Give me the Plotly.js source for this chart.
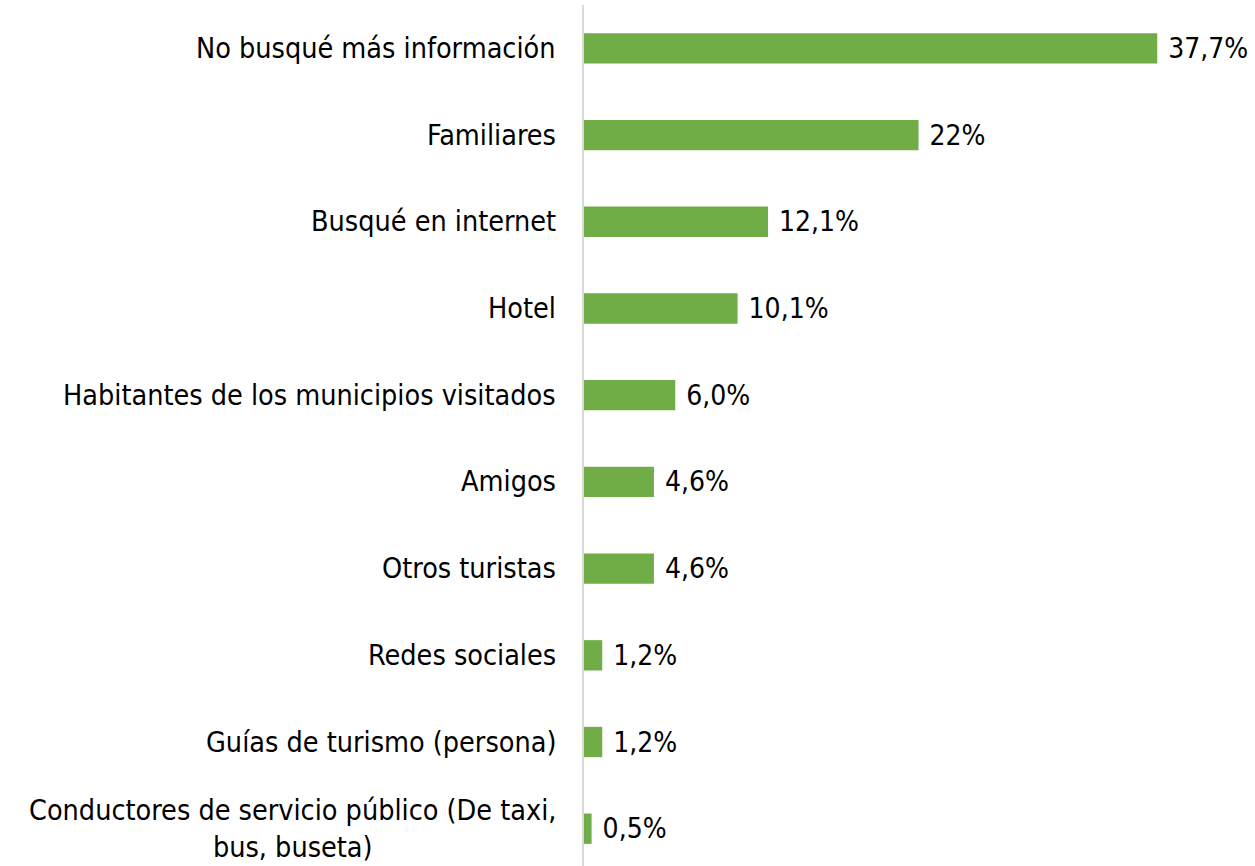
<!DOCTYPE html>
<html>
<head>
<meta charset="utf-8">
<script src="https://cdn.plot.ly/plotly-3.0.1.min.js"></script>
<style>
  html, body { margin: 0; padding: 0; background: #fff; }
  #chart { width: 1255px; height: 866px; }
</style>
</head>
<body>
<div id="chart"></div>
<script>
const categories = [
    'No busqué más información',
    'Familiares',
    'Busqué en internet',
    'Hotel',
    'Habitantes de los municipios visitados',
    'Amigos',
    'Otros turistas',
    'Redes sociales',
    'Guías de turismo (persona)',
    'Conductores de servicio público (De taxi,<br>bus, buseta)'
];
const values = [37.7, 22, 12.1, 10.1, 6.0, 4.6, 4.6, 1.2, 1.2, 0.5];
const valueLabels = ['37,7%', '22%', '12,1%', '10,1%', '6,0%', '4,6%', '4,6%', '1,2%', '1,2%', '0,5%'];

var fontFamily = '"DejaVu Sans Condensed", "DejaVu Sans", sans-serif';

var barTrace = {
    type: 'bar',
    orientation: 'h',
    x: values,
    y: categories,
    text: valueLabels.map(function(t){ return '\u00a0' + t; }),
    textposition: 'outside',
    constraintext: 'none',
    cliponaxis: false,
    textfont: { size: 28, color: '#000', family: fontFamily },
    marker: { color: '#70ad47' },
    hoverinfo: 'x+y'
};

// category labels drawn as annotations so the two-line label is centred
var labelNotes = categories.map(function(c){
    return {
        x: 0, xref: 'paper',
        y: c, yref: 'y',
        text: c,
        showarrow: false,
        xanchor: 'right',
        align: 'center',
        xshift: -26,
        font: { size: 28.5, color: '#000', family: fontFamily }
    };
});

var layout = {
    width: 1255,
    height: 866,
    margin: { l: 584, r: 5, t: 5, b: 0 },
    paper_bgcolor: '#fff',
    plot_bgcolor: '#fff',
    showlegend: false,
    bargap: 0.65,
    font: { family: fontFamily, color: '#000' },
    xaxis: {
        range: [0, 43.8],
        visible: false,
        showgrid: false,
        zeroline: false
    },
    yaxis: {
        // reversed, slightly cut at the bottom like the original
        range: [9.43, -0.5],
        showticklabels: false,
        showgrid: false,
        zeroline: false,
        showline: true,
        linecolor: '#d9d9d9',
        linewidth: 2,
        ticks: ''
    },
    annotations: labelNotes
};

Plotly.newPlot('chart', [barTrace], layout, { displayModeBar: false, staticPlot: true });
</script>
</body>
</html>
